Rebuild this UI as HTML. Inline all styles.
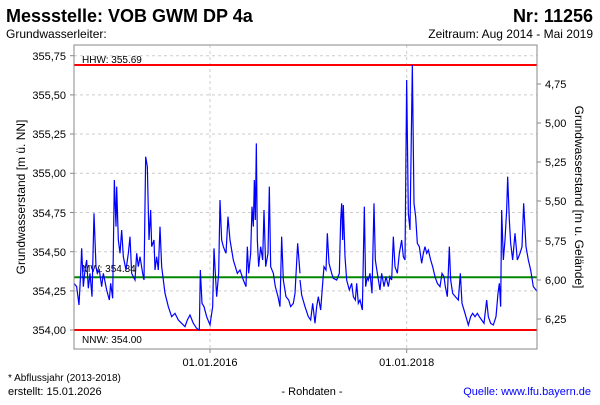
<!DOCTYPE html>
<html><head><meta charset="utf-8"><style>
body{margin:0;background:#fff;}
svg text{font-family:"Liberation Sans",Arial,sans-serif;}
</style></head><body>
<svg width="600" height="400" xmlns="http://www.w3.org/2000/svg">
<rect width="600" height="400" fill="#fff"/>
<text x="6" y="22" font-size="18" font-weight="bold">Messstelle: VOB GWM DP 4a</text>
<text x="593" y="22" font-size="18" font-weight="bold" text-anchor="end">Nr: 11256</text>
<text x="6" y="38" font-size="12">Grundwasserleiter:</text>
<text x="593" y="38" font-size="12" text-anchor="end">Zeitraum: Aug 2014 - Mai 2019</text>
<g stroke="#ccc" stroke-dasharray="3,3" stroke-width="1">
<line x1="74" x2="537" y1="55.7" y2="55.7"/><line x1="74" x2="537" y1="94.9" y2="94.9"/>
<line x1="74" x2="537" y1="134" y2="134"/><line x1="74" x2="537" y1="173.3" y2="173.3"/>
<line x1="74" x2="537" y1="212.5" y2="212.5"/><line x1="74" x2="537" y1="251.7" y2="251.7"/>
<line x1="74" x2="537" y1="290.9" y2="290.9"/>
<line x1="210" x2="210" y1="45" y2="349"/><line x1="406.7" x2="406.7" y1="45" y2="349"/>
</g>
<line x1="74" x2="537" y1="65" y2="65" stroke="#f00" stroke-width="2"/>
<line x1="74" x2="537" y1="330" y2="330" stroke="#f00" stroke-width="2"/>
<line x1="74" x2="537" y1="277.3" y2="277.3" stroke="#080" stroke-width="2"/>
<text x="82" y="63" font-size="10">HHW: 355.69</text>
<text x="82" y="272" font-size="10">MW: 354.34</text>
<text x="82" y="343" font-size="10">NNW: 354.00</text>
<g fill="none" stroke="#00f" stroke-width="1.2">
<polyline transform="translate(0,40) scale(0.33333)" vector-effect="non-scaling-stroke" points="222,730 230,740 237,795 242,700 245,625 250,740 255,690 260,660 265,745 270,700 276,770 282,520 288,680 292,700 298,690 305,740 310,700 320,750 328,780 332,730 338,775 343,420 348,560 350,440 355,600 360,640 365,570 370,650 378,690 385,640 390,590 395,700 405,720 410,640 415,680 420,650 428,700 432,720 437,350 442,380 447,600 452,510 455,620 462,600 465,690 470,650 475,690 480,560 485,680 495,760 505,800 515,830 525,820 535,840 545,850 555,860 562,840 570,825 580,850 590,865 598,870 601,690 606,790 612,800 620,830 630,855 638,800 642,625 646,700 650,770 656,700 660,480 665,600 670,620 678,640 684,530 690,600 700,660 712,700 720,690 730,720 738,740 742,620 746,700 752,640 756,500 760,560 763,420 766,540 769,310 772,600 776,680 782,620 788,660 792,510 797,680 804,640 808,440 812,680 820,700 826,740 834,770 840,800 845,590 850,720 858,770 866,780 872,800 880,790 885,760 893,610 900,700"/>
<polyline transform="translate(300,40) scale(0.33333)" vector-effect="non-scaling-stroke" points="0,720 5,765 15,800 25,830 32,840 38,790 45,850 50,800 55,770 62,810 68,730 72,680 78,690 82,580 87,670 95,700 100,715 110,720 118,700 122,540 125,490 128,600 130,495 135,650 140,720 148,750 155,730 160,770 166,780 170,730 175,790 180,780 187,810 193,500 197,740 202,710 205,720 210,700 216,760 222,490 226,660 232,700 240,750 245,700 252,740 258,710 265,740 270,710 275,720 280,590 285,680 292,700 298,640 305,600 310,650 315,660 320,120 325,520 330,570 337,75 342,490 347,530 352,610 358,620 365,670 370,640 375,620 380,640 385,630 392,660 398,680 405,710 412,730 420,740 426,700 432,710 436,740 442,770 448,620 452,720 458,760 466,770 475,780 481,700 486,790 495,820 505,855 512,830 518,820 525,830 532,820 538,830 545,840 552,850 560,780 565,830 572,850 580,855 588,830 594,760 598,730 602,800 605,510 610,660 615,600 620,510 623,410 628,540 632,610 638,660 645,580 652,660 660,640 666,620 671,490 678,620 685,660 692,690 700,740 708,750 712,755"/>
</g>
<rect x="74" y="45" width="463" height="304" fill="none" stroke="#888" stroke-width="1"/>
<g font-size="11" text-anchor="end">
<text x="66" y="60">355,75</text><text x="66" y="99">355,50</text><text x="66" y="138">355,25</text>
<text x="66" y="177">355,00</text><text x="66" y="217">354,75</text><text x="66" y="256">354,50</text>
<text x="66" y="295">354,25</text><text x="66" y="334">354,00</text>
</g>
<g stroke="#888"><line x1="70" x2="74" y1="55.7" y2="55.7"/><line x1="70" x2="74" y1="94.9" y2="94.9"/><line x1="70" x2="74" y1="134" y2="134"/><line x1="70" x2="74" y1="173.3" y2="173.3"/><line x1="70" x2="74" y1="212.5" y2="212.5"/><line x1="70" x2="74" y1="251.7" y2="251.7"/><line x1="70" x2="74" y1="290.9" y2="290.9"/><line x1="70" x2="74" y1="330" y2="330"/>
<line x1="537" x2="541" y1="84" y2="84"/><line x1="537" x2="541" y1="123" y2="123"/><line x1="537" x2="541" y1="162" y2="162"/><line x1="537" x2="541" y1="201" y2="201"/><line x1="537" x2="541" y1="241" y2="241"/><line x1="537" x2="541" y1="280" y2="280"/><line x1="537" x2="541" y1="319" y2="319"/>
<line x1="210" x2="210" y1="349" y2="353"/><line x1="406.7" x2="406.7" y1="349" y2="353"/></g>
<g font-size="11">
<text x="545" y="88">4,75</text><text x="545" y="127">5,00</text><text x="545" y="166">5,25</text>
<text x="545" y="205">5,50</text><text x="545" y="245">5,75</text><text x="545" y="284">6,00</text>
<text x="545" y="323">6,25</text>
</g>
<text x="210" y="366" font-size="11" text-anchor="middle">01.01.2016</text>
<text x="406.7" y="366" font-size="11" text-anchor="middle">01.01.2018</text>
<text transform="translate(25,197) rotate(-90)" font-size="12" text-anchor="middle">Grundwasserstand [m ü. NN]</text>
<text transform="translate(575,197) rotate(90)" font-size="12" text-anchor="middle">Grundwasserstand [m u. Gelände]</text>
<text x="8" y="381" font-size="10">* Abflussjahr (2013-2018)</text>
<text x="8" y="395" font-size="11">erstellt:  15.01.2026</text>
<text x="312" y="395" font-size="11" text-anchor="middle">- Rohdaten -</text>
<text x="591" y="395" font-size="11" text-anchor="end" fill="#00f">Quelle: www.lfu.bayern.de</text>
</svg>
</body></html>
